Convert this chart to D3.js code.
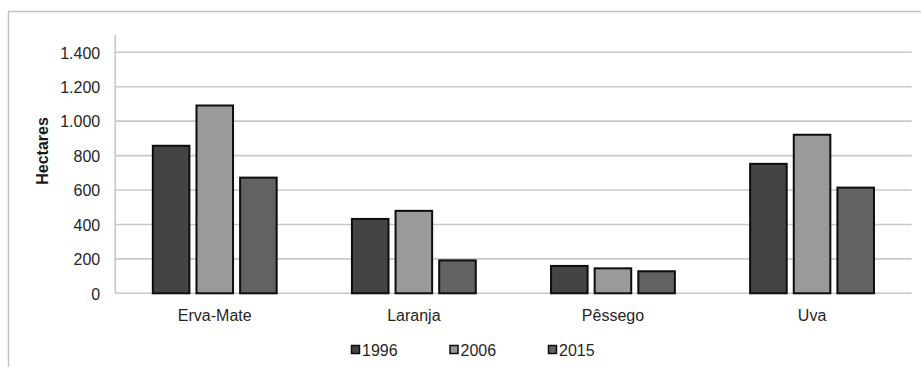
<!DOCTYPE html>
<html>
<head>
<meta charset="utf-8">
<script src="https://cdn.jsdelivr.net/npm/d3@7"></script>
<style>
  html, body { margin: 0; padding: 0; background: #fff; }
  svg { display: block; font-family: "Liberation Sans", Arial, sans-serif; }
</style>
</head>
<body>
<svg id="chart" width="921" height="367"></svg>
<script>
// Área cultivada (hectares) por cultura e ano
const categories = ["Erva-Mate", "Laranja", "Pêssego", "Uva"];
const years = ["1996", "2006", "2015"];
const values1996 = [857, 432, 159, 752];
const values2006 = [1091, 479, 145, 921];
const values2015 = [672, 191, 128, 614];
const yTicks = [0, 200, 400, 600, 800, 1000, 1200, 1400];
const yTitle = "Hectares";
const colors = ["#444444", "#9a9a9a", "#626262"];

const seriesValues = [values1996, values2006, values2015];
const rows = categories.map((c, i) => ({
  category: c,
  bars: years.map((y, j) => ({ year: y, value: seriesValues[j][i], color: colors[j] }))
}));

const svg = d3.select("#chart");
const ptBR = d3.formatLocale({ decimal: ",", thousands: ".", grouping: [3], currency: ["R$ ", ""] });
const fmt = ptBR.format(",d");

const plot = { left: 115.2, right: 911.6, top: 35, bottom: 293.3 };

const y = d3.scaleLinear().domain([0, 1400]).range([plot.bottom, 52.3]);
const x0 = d3.scaleBand().domain(categories).range([plot.left, plot.right])
  .paddingInner(0.378).paddingOuter(0.189);
const x1 = d3.scaleBand().domain(years).range([0, x0.bandwidth()])
  .paddingInner(0.162).paddingOuter(0);

// outer frame
svg.append("rect")
  .attr("x", 8.5).attr("y", 11.5).attr("width", 930).attr("height", 380)
  .attr("fill", "none").attr("stroke", "#c4c4c4").attr("stroke-width", 1.5);

// gridlines
svg.append("g").selectAll("line").data(yTicks.filter(d => d > 0)).join("line")
  .attr("x1", plot.left).attr("x2", plot.right)
  .attr("y1", d => y(d)).attr("y2", d => y(d))
  .attr("stroke", "#c8c8c8").attr("stroke-width", 1.6);

// y axis labels
const yAxis = svg.append("g")
  .attr("transform", `translate(${plot.left},0)`)
  .call(d3.axisLeft(y).tickValues(yTicks).tickFormat(fmt).tickSize(0).tickPadding(15));
yAxis.select(".domain").remove();
yAxis.selectAll("text")
  .attr("fill", "#262626").attr("font-size", 16).attr("dy", "0.36em");

// axis lines
svg.append("line")
  .attr("x1", plot.left).attr("x2", plot.left)
  .attr("y1", plot.top).attr("y2", plot.bottom)
  .attr("stroke", "#c8c8c8").attr("stroke-width", 1.6);
svg.append("line")
  .attr("x1", plot.left).attr("x2", plot.right)
  .attr("y1", plot.bottom).attr("y2", plot.bottom)
  .attr("stroke", "#c8c8c8").attr("stroke-width", 1.6);

// bars
const groups = svg.append("g").selectAll("g").data(rows).join("g")
  .attr("transform", d => `translate(${x0(d.category)},0)`);
groups.selectAll("rect").data(d => d.bars).join("rect")
  .attr("x", d => x1(d.year))
  .attr("width", x1.bandwidth())
  .attr("y", d => y(d.value))
  .attr("height", d => y(0) - y(d.value))
  .attr("fill", d => d.color)
  .attr("stroke", "#0d0d0d").attr("stroke-width", 2);

// category labels
const xAxis = svg.append("g")
  .attr("transform", `translate(0,${plot.bottom})`)
  .call(d3.axisBottom(x0).tickSize(0).tickPadding(16));
xAxis.select(".domain").remove();
xAxis.selectAll("text").attr("fill", "#262626").attr("font-size", 16);

// y title
svg.append("text")
  .attr("transform", `translate(48,151) rotate(-90)`)
  .attr("text-anchor", "middle")
  .attr("font-size", 16).attr("font-weight", "bold").attr("fill", "#1a1a1a")
  .text(yTitle);

// legend
const legend = svg.append("g").selectAll("g").data(years).join("g")
  .attr("transform", (d, i) => `translate(${351 + i * 98.5},350)`);
legend.append("rect")
  .attr("x", 0.5).attr("y", -4.5).attr("width", 8).attr("height", 8)
  .attr("fill", (d, i) => colors[i]).attr("stroke", "#0d0d0d").attr("stroke-width", 1.5);
legend.append("text")
  .attr("x", 11).attr("y", 0).attr("dy", "0.36em")
  .attr("font-size", 16).attr("fill", "#262626")
  .text(d => d);
</script>
</body>
</html>
